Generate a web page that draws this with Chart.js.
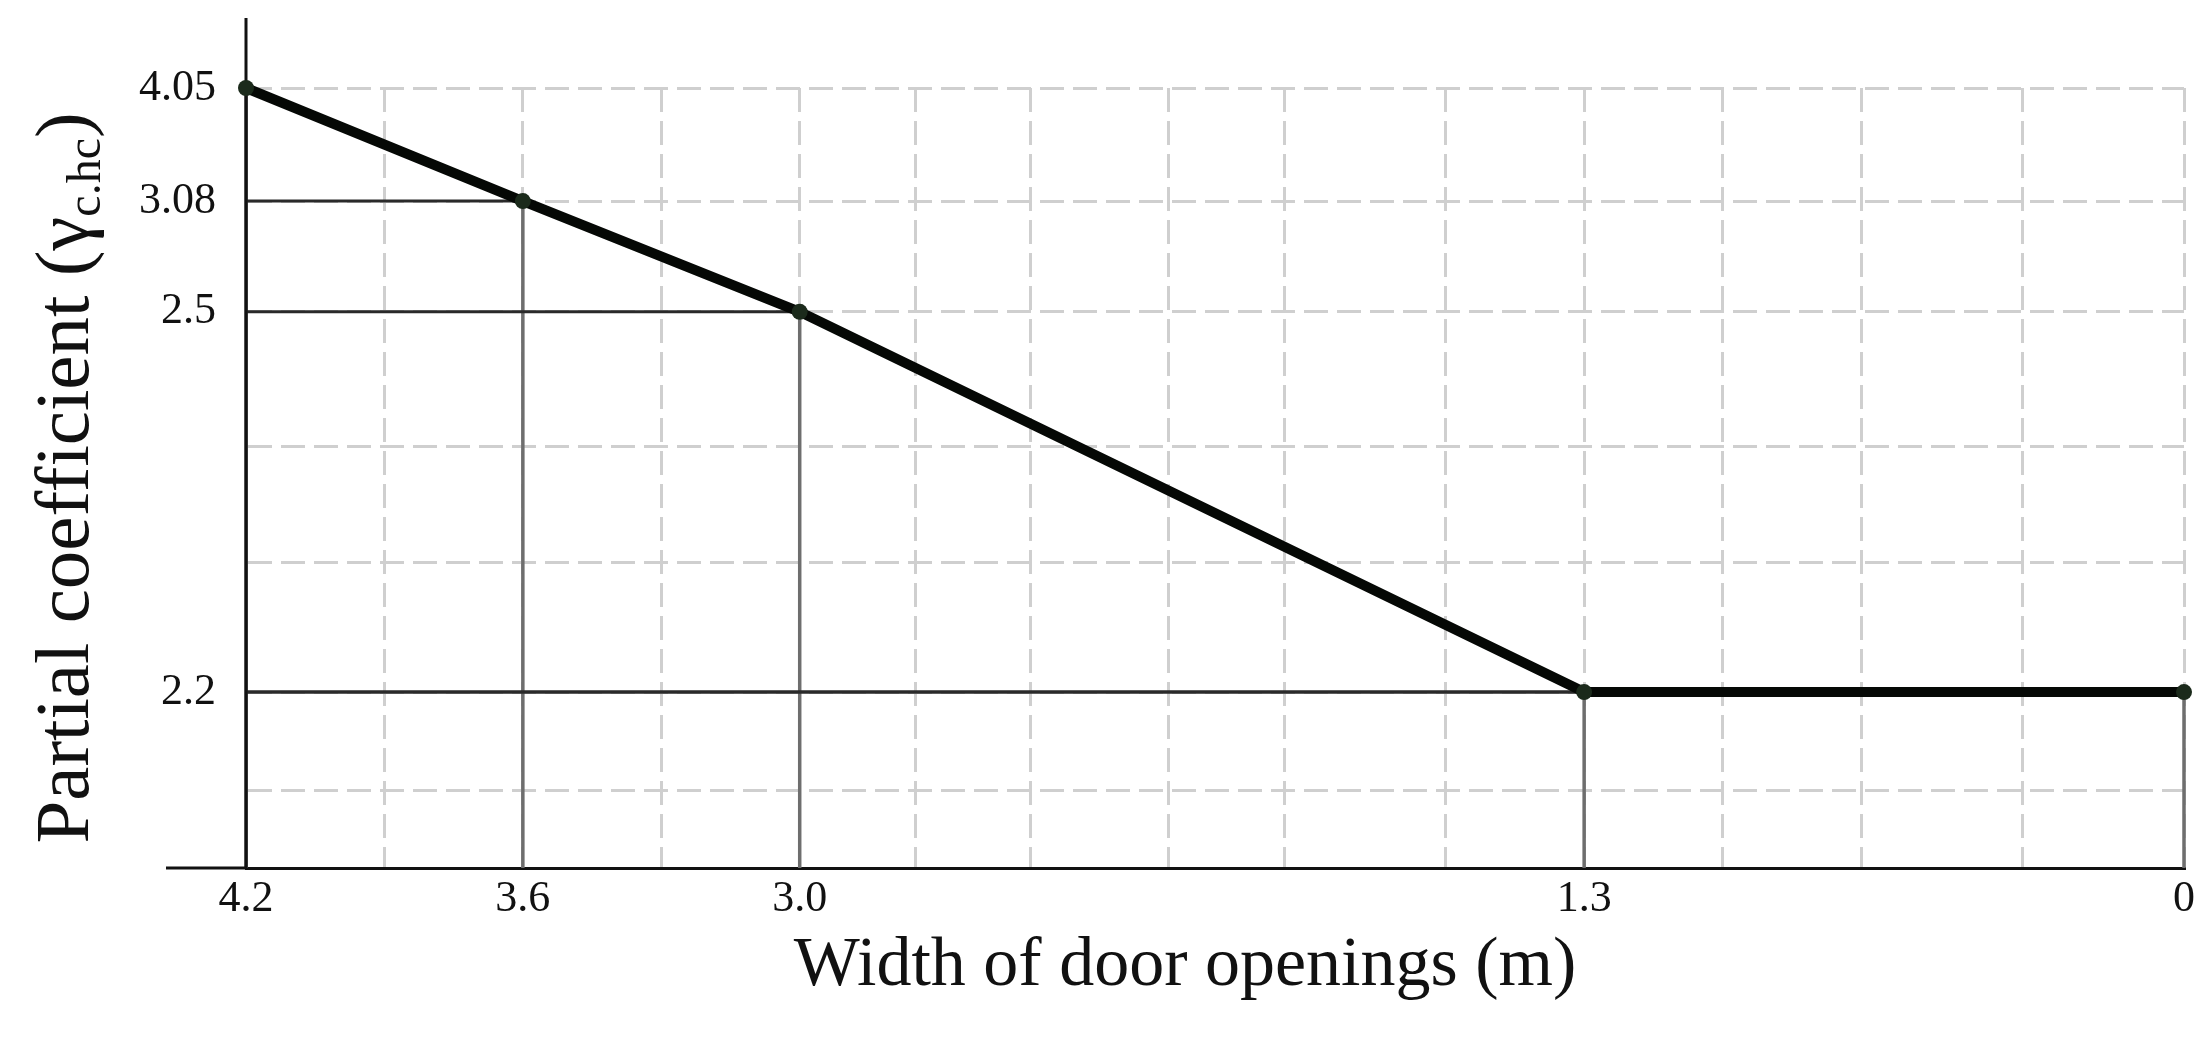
<!DOCTYPE html>
<html>
<head>
<meta charset="utf-8">
<title>Partial coefficient vs width of door openings</title>
<script src="https://cdn.jsdelivr.net/npm/chart.js@4.4.1/dist/chart.umd.min.js"></script>
<style>
  html, body { margin: 0; padding: 0; background: #fff; }
  #wrap { width: 2211px; height: 1037px; }
</style>
</head>
<body>
<div id="wrap"><canvas id="coefChart"></canvas></div>
<script>
// door opening width (m) and the partial coefficient
const widths = [4.2, 3.6, 3.0, 1.3, 0];
const coefficients = [4.05, 3.08, 2.5, 2.2, 2.2];

// labelled ticks
const xTickValues = [4.2, 3.6, 3.0, 1.3, 0];
const xTickLabels = ['4.2', '3.6', '3.0', '1.3', '0'];
const yTickValues = [4.05, 3.08, 2.5, 2.2];
const yTickLabels = ['4.05', '3.08', '2.5', '2.2'];

// dashed vertical grid lines (m), as drawn in the figure
const xGridValues = [4.2, 3.9, 3.6, 3.3, 3.0, 2.75, 2.5, 2.2, 1.95, 1.6, 1.3, 1.0, 0.7, 0.35, 0];

// the y axis of the figure is not to scale: each labelled value sits at its own
// height (fraction of plot height from the bottom), plus some blank dashed rows
const yTickHeights = [1.0, 0.855, 0.713, 0.2256];
const yBlankRows = [0.540, 0.392, 0.100];

const FONT = '"Liberation Serif", "Times New Roman", serif';

// piecewise linear scale so the labelled values land where the figure puts them
class FigureScale extends Chart.LinearScale {
  stops() {
    return yTickValues.map((v, i) => [v, yTickHeights[i]]).sort((a, b) => a[0] - b[0]);
  }
  toFrac(v) {
    const s = this.stops();
    let i = 0;
    while (i < s.length - 2 && v > s[i + 1][0]) i++;
    const [v0, f0] = s[i], [v1, f1] = s[i + 1];
    return f0 + (v - v0) * (f1 - f0) / (v1 - v0);
  }
  toValue(f) {
    const s = this.stops();
    let i = 0;
    while (i < s.length - 2 && f > s[i + 1][1]) i++;
    const [v0, f0] = s[i], [v1, f1] = s[i + 1];
    return v0 + (f - f0) * (v1 - v0) / (f1 - f0);
  }
  determineDataLimits() {
    this.min = this.toValue(0);
    this.max = this.toValue(1);
  }
  buildTicks() {
    const vals = yTickValues.concat(yBlankRows.map(f => this.toValue(f)));
    return vals.sort((a, b) => a - b).map(value => ({ value }));
  }
  getPixelForValue(v) {
    return this.getPixelForDecimal(this.toFrac(v));
  }
  getValueForPixel(p) {
    return this.toValue(this.getDecimalForPixel(p));
  }
}
FigureScale.id = 'figure';
FigureScale.defaults = {};
Chart.register(FigureScale);

// drop lines to the axes, axis overhangs and the two axis titles
const figureExtras = {
  id: 'figureExtras',
  beforeDatasetsDraw(chart) {
    const { ctx, chartArea: area, scales: { x, y } } = chart;
    ctx.save();
    widths.forEach((w, i) => {
      const px = x.getPixelForValue(w);
      const py = y.getPixelForValue(coefficients[i]);
      ctx.strokeStyle = '#6e6e6e';
      ctx.lineWidth = 3.5;
      ctx.beginPath(); ctx.moveTo(px, py); ctx.lineTo(px, area.bottom); ctx.stroke();
      ctx.strokeStyle = '#2a2a2a';
      ctx.lineWidth = 3;
      ctx.beginPath(); ctx.moveTo(area.left, py); ctx.lineTo(px, py); ctx.stroke();
    });
    ctx.strokeStyle = '#111';
    ctx.lineWidth = 3;
    ctx.beginPath();
    ctx.moveTo(area.left, area.bottom); ctx.lineTo(area.left, area.top - 70);
    ctx.moveTo(area.left - 80, area.bottom); ctx.lineTo(area.left, area.bottom);
    ctx.stroke();
    ctx.restore();
  },
  afterDraw(chart) {
    const { ctx, chartArea: area } = chart;
    ctx.save();
    ctx.fillStyle = '#111';
    ctx.textBaseline = 'alphabetic';

    ctx.font = '70px ' + FONT;
    ctx.textAlign = 'center';
    ctx.fillText('Width of door openings (m)', (area.left + area.right) / 2 - 30, area.bottom + 117);

    // y title with subscript, rotated
    const big = '77px ' + FONT, small = '48px ' + FONT;
    const parts = [
      ['Partial coefficient (\u03B3', big, 0],
      ['c.hc', small, 12],
      [')', big, 0]
    ];
    let total = 0;
    parts.forEach(p => { ctx.font = p[1]; total += ctx.measureText(p[0]).width; });
    ctx.translate(area.left - 158, (area.top + area.bottom) / 2);
    ctx.rotate(-Math.PI / 2);
    ctx.textAlign = 'left';
    let cx = -total / 2;
    parts.forEach(p => {
      ctx.font = p[1];
      ctx.fillText(p[0], cx, p[2]);
      cx += ctx.measureText(p[0]).width;
    });
    ctx.restore();
  }
};

const gridStyle = { color: '#cfcfcf', lineWidth: 3, drawTicks: false };
const borderStyle = { color: '#111', width: 3, dash: [24, 9] };
const tickFont = { family: FONT, size: 44 };

const ctx = document.getElementById('coefChart').getContext('2d');
const coefChart = new Chart(ctx, {
  type: 'line',
  data: {
    datasets: [{
      data: widths.map((w, i) => ({ x: w, y: coefficients[i] })),
      borderColor: '#050805',
      borderWidth: 10,
      pointRadius: 8,
      pointBackgroundColor: '#1b2a1b',
      pointBorderWidth: 0,
      tension: 0,
      clip: false
    }]
  },
  options: {
    responsive: true,
    maintainAspectRatio: false,
    devicePixelRatio: 1,
    animation: false,
    layout: { padding: { top: 88, right: 27, left: 0, bottom: 0 } },
    plugins: { legend: { display: false }, tooltip: { enabled: false } },
    scales: {
      x: {
        type: 'linear',
        reverse: true,
        min: 0,
        max: 4.2,
        afterBuildTicks: s => { s.ticks = xGridValues.map(value => ({ value })); },
        afterFit: s => { s.height = 169; },
        ticks: {
          autoSkip: false, maxRotation: 0, padding: 5, color: '#111', font: tickFont,
          callback: v => { const i = xTickValues.indexOf(v); return i < 0 ? '' : xTickLabels[i]; }
        },
        grid: gridStyle,
        border: borderStyle
      },
      y: {
        type: 'figure',
        afterFit: s => { s.width = 246; },
        ticks: {
          autoSkip: false, padding: 30, color: '#111', font: tickFont,
          callback: v => { const i = yTickValues.indexOf(v); return i < 0 ? '' : yTickLabels[i]; }
        },
        grid: gridStyle,
        border: borderStyle
      }
    }
  },
  plugins: [figureExtras]
});
</script>
</body>
</html>
